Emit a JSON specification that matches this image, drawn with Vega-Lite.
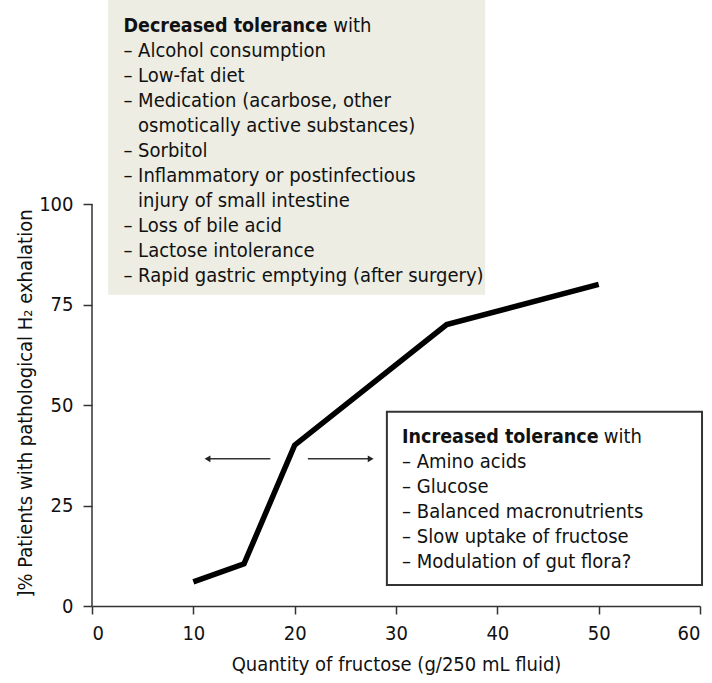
{
  "$schema": "https://vega.github.io/schema/vega-lite/v6.json",
  "width": 608,
  "height": 603,
  "autosize": {"type": "none"},
  "padding": {"left": 92, "top": 3, "right": 12, "bottom": 77},
  "background": "white",
  "config": {
    "view": {"stroke": null},
    "font": "Liberation Sans Narrow, DejaVu Sans Condensed, Liberation Sans",
    "axis": {
      "labelFont": "Liberation Sans Narrow, DejaVu Sans Condensed, Liberation Sans",
      "titleFont": "Liberation Sans Narrow, DejaVu Sans Condensed, Liberation Sans",
      "labelColor": "#111",
      "titleColor": "#111",
      "labelFontSize": 20,
      "titleFontSize": 20,
      "titleFontWeight": "normal",
      "grid": false,
      "tickColor": "#333",
      "domainColor": "#333",
      "tickWidth": 1.5,
      "domainWidth": 1.5
    }
  },
  "datasets": {
    "curve": [
      {"x": 10, "y": 6},
      {"x": 15, "y": 10.5},
      {"x": 20, "y": 40},
      {"x": 35, "y": 70},
      {"x": 50, "y": 80}
    ],
    "boxes": [
      {"box": "decreased", "x": 1.6, "x2": 38.8, "y": 77.4, "y2": 151},
      {"box": "increased", "x": 29.1, "x2": 60.2, "y": 5.2, "y2": 48.3}
    ],
    "heads": [
      {"label": "Decreased tolerance", "x": 3.1, "y": 142.8},
      {"label": "Increased tolerance", "x": 30.6, "y": 40.5}
    ],
    "withs": [
      {"label": "with", "x": 23.8, "y": 142.8},
      {"label": "with", "x": 50.5, "y": 40.5}
    ],
    "lines": [
      {"label": "– Alcohol consumption", "x": 3.1, "y": 136.6},
      {"label": "– Low-fat diet", "x": 3.1, "y": 130.4},
      {"label": "– Medication (acarbose, other", "x": 3.1, "y": 124.1},
      {"label": "osmotically active substances)", "x": 4.55, "y": 117.9},
      {"label": "– Sorbitol", "x": 3.1, "y": 111.7},
      {"label": "– Inflammatory or postinfectious", "x": 3.1, "y": 105.5},
      {"label": "injury of small intestine", "x": 4.55, "y": 99.3},
      {"label": "– Loss of bile acid", "x": 3.1, "y": 93.0},
      {"label": "– Lactose intolerance", "x": 3.1, "y": 86.8},
      {"label": "– Rapid gastric emptying (after surgery)", "x": 3.1, "y": 80.6},
      {"label": "– Amino acids", "x": 30.6, "y": 34.3},
      {"label": "– Glucose", "x": 30.6, "y": 28.1},
      {"label": "– Balanced macronutrients", "x": 30.6, "y": 21.9},
      {"label": "– Slow uptake of fructose", "x": 30.6, "y": 15.6},
      {"label": "– Modulation of gut flora?", "x": 30.6, "y": 9.4}
    ],
    "axisline": [{"x": 0, "y": 0, "y2": 100}],
    "arrows": [
      {"dir": "left", "x": 17.6, "x2": 11.4, "y": 36.6},
      {"dir": "right", "x": 21.3, "x2": 27.5, "y": 36.6}
    ]
  },
  "layer": [
    {
      "data": {"name": "boxes"},
      "transform": [{"filter": "datum.box === 'decreased'"}],
      "mark": {"type": "rect", "fill": "#EDEDE4", "clip": false},
      "encoding": {
        "x": {"field": "x", "type": "quantitative", "scale": {"domain": [0, 60], "nice": false},
          "axis": {"values": [0, 10, 20, 30, 40, 50, 60], "title": "Quantity of fructose (g/250 mL fluid)", "tickSize": 8, "labelPadding": 9, "titlePadding": 11, "domain": true}},
        "x2": {"field": "x2"},
        "y": {"field": "y", "type": "quantitative", "scale": {"domain": [0, 150], "nice": false},
          "axis": {"values": [0, 25, 50, 75, 100], "title": "]% Patients with pathological H₂ exhalation", "domain": false, "tickSize": 9, "labelPadding": 10, "titlePadding": 3, "titleY": 400, "titleAnchor": "middle", "titleAlign": "center"}},
        "y2": {"field": "y2"}
      }
    },
    {
      "data": {"name": "boxes"},
      "transform": [{"filter": "datum.box === 'increased'"}],
      "mark": {"type": "rect", "fill": "white", "stroke": "#333", "strokeWidth": 2},
      "encoding": {
        "x": {"field": "x", "type": "quantitative"},
        "x2": {"field": "x2"},
        "y": {"field": "y", "type": "quantitative"},
        "y2": {"field": "y2"}
      }
    },
    {
      "data": {"name": "heads"},
      "mark": {"type": "text", "align": "left", "baseline": "alphabetic", "fontSize": 19.5, "fontWeight": "bold", "color": "#111", "clip": false},
      "encoding": {
        "x": {"field": "x", "type": "quantitative"},
        "y": {"field": "y", "type": "quantitative"},
        "text": {"field": "label"}
      }
    },
    {
      "data": {"name": "withs"},
      "mark": {"type": "text", "align": "left", "baseline": "alphabetic", "fontSize": 20, "color": "#111", "clip": false},
      "encoding": {
        "x": {"field": "x", "type": "quantitative"},
        "y": {"field": "y", "type": "quantitative"},
        "text": {"field": "label"}
      }
    },
    {
      "data": {"name": "lines"},
      "mark": {"type": "text", "align": "left", "baseline": "alphabetic", "fontSize": 20, "color": "#111", "clip": false},
      "encoding": {
        "x": {"field": "x", "type": "quantitative"},
        "y": {"field": "y", "type": "quantitative"},
        "text": {"field": "label"}
      }
    },
    {
      "data": {"name": "axisline"},
      "mark": {"type": "rule", "color": "#333", "strokeWidth": 1.5},
      "encoding": {
        "x": {"field": "x", "type": "quantitative"},
        "y": {"field": "y", "type": "quantitative"},
        "y2": {"field": "y2"}
      }
    },
    {
      "data": {"name": "curve"},
      "mark": {"type": "line", "color": "black", "strokeWidth": 5.5, "strokeJoin": "miter"},
      "encoding": {
        "x": {"field": "x", "type": "quantitative"},
        "y": {"field": "y", "type": "quantitative"}
      }
    },
    {
      "data": {"name": "arrows"},
      "mark": {"type": "rule", "color": "#333", "strokeWidth": 1.5},
      "encoding": {
        "x": {"field": "x", "type": "quantitative"},
        "x2": {"field": "x2"},
        "y": {"field": "y", "type": "quantitative"}
      }
    },
    {
      "data": {"name": "arrows"},
      "mark": {"type": "point", "filled": true, "color": "#222", "size": 45, "opacity": 1},
      "encoding": {
        "x": {"field": "x2", "type": "quantitative"},
        "y": {"field": "y", "type": "quantitative"},
        "shape": {"field": "dir", "type": "nominal", "scale": {"domain": ["left", "right"], "range": ["triangle-left", "triangle-right"]}, "legend": null}
      }
    }
  ]
}
